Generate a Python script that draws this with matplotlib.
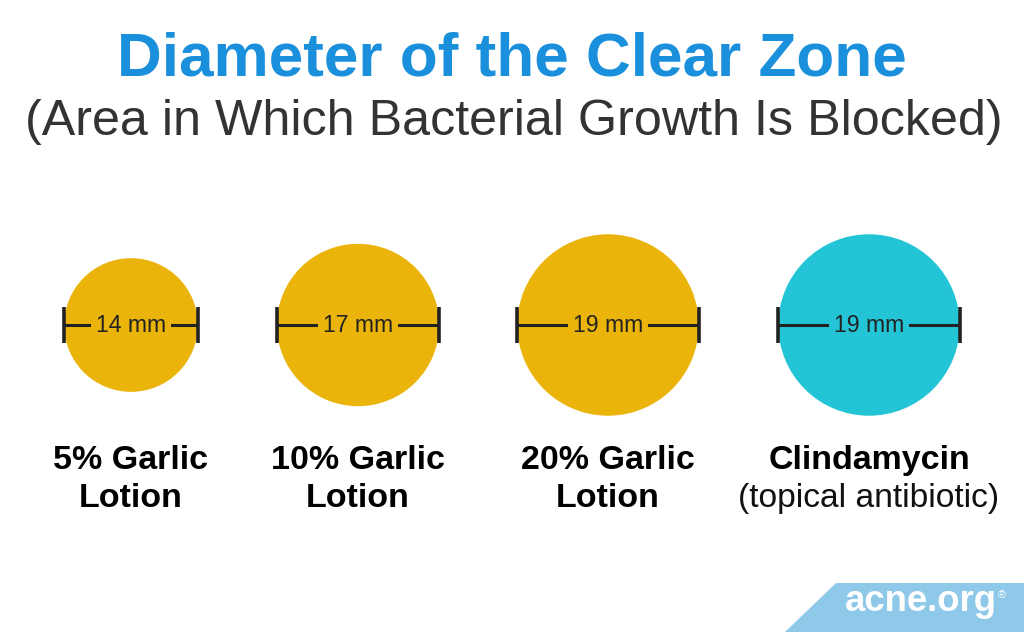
import matplotlib
matplotlib.use("Agg")
import matplotlib.pyplot as plt
from matplotlib.patches import Circle, Polygon

# Data
name_line1 = ["5% Garlic", "10% Garlic", "20% Garlic", "Clindamycin"]
name_line2 = ["Lotion", "Lotion", "Lotion", "(topical antibiotic)"]
diameters_mm = [14, 17, 19, 19]
value_labels = ["14 mm", "17 mm", "19 mm", "19 mm"]

# Style / layout
W, H = 1024, 632
PX_PER_MM = 9.55
centers_x = [131, 358, 608, 869]
center_y = 325
colors = ["#EAB40A", "#EAB40A", "#EAB40A", "#22C4D6"]
line2_bold = [True, True, True, False]
title_blue = "#1A8FDB"
dark = "#222222"
FONT = "Liberation Sans"


def pt(px):
    return px * 72 / 100


fig = plt.figure(figsize=(W / 100, H / 100), dpi=100)
ax = fig.add_axes([0, 0, 1, 1])
ax.set_xlim(0, W)
ax.set_ylim(H, 0)
ax.set_aspect("equal")
ax.axis("off")

ax.text(W / 2, 75, "Diameter of the Clear Zone", ha="center", va="baseline",
        color=title_blue, fontsize=pt(62), fontweight="bold", family=FONT)
ax.text(W / 2 + 2, 135, "(Area in Which Bacterial Growth Is Blocked)", ha="center",
        va="baseline", color="#333333", fontsize=pt(50.3), family=FONT)

for cx, d, col, lab, l1, l2, b2 in zip(centers_x, diameters_mm, colors, value_labels,
                                       name_line1, name_line2, line2_bold):
    r = d * PX_PER_MM / 2
    ax.add_patch(Circle((cx, center_y), r, facecolor=col, edgecolor="none"))
    # measuring bar across the diameter
    ax.plot([cx - r, cx + r], [center_y, center_y], color=dark, lw=2.2, solid_capstyle="butt")
    for ex in (cx - r, cx + r):
        ax.plot([ex, ex], [center_y - 18, center_y + 18], color=dark, lw=2.6,
                solid_capstyle="butt")
    ax.text(cx, center_y + 1, lab, ha="center", va="center", color=dark, fontsize=pt(23),
            family=FONT,
            bbox=dict(boxstyle="square,pad=0.2", facecolor=col, edgecolor="none"))
    ax.text(cx, 469, l1, ha="center", va="baseline", color="black",
            fontsize=pt(34), fontweight="bold", family=FONT)
    if b2:
        ax.text(cx, 507, l2, ha="center", va="baseline", color="black",
                fontsize=pt(34), fontweight="bold", family=FONT)
    else:
        ax.text(cx, 507, l2, ha="center", va="baseline", color="#111111",
                fontsize=pt(33.7), family=FONT)

# Logo band
ax.add_patch(Polygon([(785, H), (836, 583), (W, 583), (W, H)], closed=True,
                     facecolor="#8EC9EA", edgecolor="none"))
ax.text(845, 611, "acne.org", ha="left", va="baseline", color="white",
        fontsize=pt(36.5), fontweight="bold", family=FONT)
ax.text(998, 595, "®", ha="left", va="center", color="white", fontsize=pt(11), family=FONT)

fig.savefig("out.png", dpi=100, facecolor="white")
